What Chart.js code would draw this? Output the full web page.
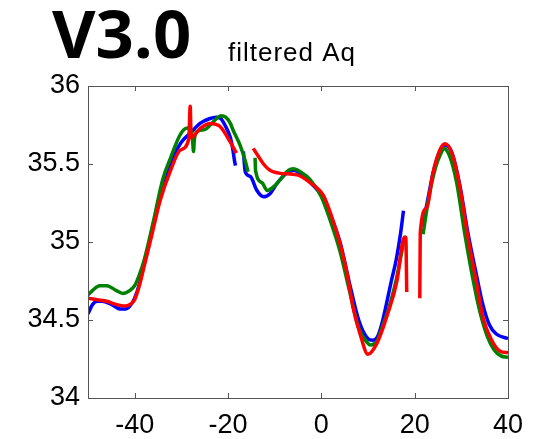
<!DOCTYPE html>
<html>
<head>
<meta charset="UTF-8">
<title>V3.0 filtered Aq</title>
<script src="https://cdn.jsdelivr.net/npm/chart.js@4.4.0/dist/chart.umd.min.js"></script>
<style>
  body { margin: 0; background: #fff; }
  #wrap { width: 537px; height: 439px; }
</style>
</head>
<body>
<div id="wrap"><canvas id="c"></canvas></div>
<script>
    // values, null = break in the line
    const blueX = [-50, -49, -48, -47, -45, -43, -42, -41, -40, -39, -38, -37, -35, -33, -31.5, -30, -28, -26, -24, -22.5, -21.5, -20.5, -19.5, -19, -18.6, -18.4, -17.5,
        -16.7, -16.3, -15.2, -13.8, -12.4, -11, -9.4, -7.5, -6, -4, -2, 0, 2, 4, 6, 8, 10, 11, 12, 13, 14, 15, 16, 17, 17.6, 19.5,
        21.6, 22.6, 24, 25.4, 26.5, 28, 29.7, 31.4, 33.3, 34.6, 36, 37.5, 40];
    const blueY = [34.54, 34.60, 34.62, 34.62, 34.60, 34.57, 34.57, 34.59, 34.64, 34.73, 34.86, 34.98, 35.23, 35.43, 35.56, 35.64, 35.70, 35.76, 35.79, 35.80, 35.79, 35.74, 35.67, 35.60, 35.52, 35.49, null,
        35.58, 35.45, 35.42, 35.33, 35.29, 35.31, 35.38, 35.44, 35.46, 35.43, 35.37, 35.30, 35.17, 35.00, 34.74, 34.50, 34.38, 34.37, 34.39, 34.48, 34.61, 34.75, 34.88, 35.06, 35.20, null,
        35.10, 35.24, 35.45, 35.58, 35.62, 35.57, 35.36, 35.06, 34.78, 34.60, 34.47, 34.41, 34.38];

    const greenX = [-50, -49, -47.5, -46, -44, -42.5, -41, -40, -39, -38, -36, -34, -32.3, -30.2, -28.7, -28, -27.6, -27.4, -27.2, -26.5, -25, -23.8, -22.5, -21.5, -20.5, -19.5, -18.8, -17.4, -16.3, -15.7, -15,
        -14.2, -14.1, -12.7, -11.6, -10, -8.8, -7, -6, -4.5, -2.4, 0, 2, 4, 6, 8, 10, 10.5, 12, 13, 14.7, 16, 17, 17.9, 20,
        21.8, 23, 24.5, 25.5, 26.3, 27.5, 29, 30.7, 32.5, 34, 35.5, 37, 38.5, 40];
    const greenY = [34.66, 34.69, 34.72, 34.72, 34.69, 34.67, 34.69, 34.72, 34.79, 34.88, 35.13, 35.40, 35.54, 35.69, 35.73, 35.72, 35.66, 35.58, 35.66, 35.71, 35.72, 35.75, 35.79, 35.81, 35.80, 35.76, 35.71, 35.62, 35.52, 35.45, null,
        35.54, 35.46, 35.38, 35.33, 35.36, 35.40, 35.46, 35.47, 35.45, 35.40, 35.29, 35.13, 34.94, 34.69, 34.45, 34.35, 34.34, 34.37, 34.45, 34.60, 34.75, 34.90, 35.04, null,
        35.05, 35.28, 35.48, 35.56, 35.60, 35.55, 35.38, 35.06, 34.76, 34.55, 34.40, 34.31, 34.27, 34.26];

    const redX = [-50, -48, -46, -44, -42, -41, -40, -39, -38, -36.6, -34.5, -32.3, -30.2, -28.4, -28.1, -27.9, -25.9, -23.8, -21.7, -19.5, -18.2, -16,
        -14.6, -13.5, -12.4, -11, -8.8, -5.2, -2.4, 0.4, 1.9, 4, 5.5, 6.8, 8.3, 10, 11.9, 14, 16.2, 17.5, 18.1, 18.3, 20,
        21.1, 21.2, 22.6, 23.9, 25.4, 26.5, 28, 29.7, 31.4, 33.3, 34.6, 36.5, 38.3, 40];
    const redY = [34.64, 34.63, 34.62, 34.60, 34.59, 34.60, 34.63, 34.72, 34.84, 35.01, 35.27, 35.46, 35.59, 35.66, 35.87, 35.67, 35.73, 35.76, 35.74, 35.64, 35.57, null,
        35.60, 35.55, 35.50, 35.46, 35.44, 35.43, 35.38, 35.30, 35.19, 34.99, 34.80, 34.58, 34.41, 34.28, 34.35, 34.52, 34.75, 35.01, 35.03, 34.68, null,
        34.64, 35.06, 35.22, 35.44, 35.59, 35.63, 35.57, 35.35, 35.03, 34.73, 34.52, 34.37, 34.30, 34.29];

    const xTicks = [-40, -20, 0, 20, 40];
    const yTicks = [34, 34.5, 35, 35.5, 36];

    function pts(xs, ys) {
        return xs.map((x, i) => ({ x: x, y: ys[i] }));
    }

    function series(name, xs, ys, color) {
        return {
            label: name,
            data: pts(xs, ys),
            showLine: true,
            borderColor: color,
            backgroundColor: color,
            borderWidth: 3.5,
            pointRadius: 0,
            spanGaps: false,
            cubicInterpolationMode: 'monotone'
        };
    }

    // MATLAB-like box with inward ticks, plus the two titles
    const boxPlugin = {
        id: 'box',
        afterDraw(chart) {
            const ctx = chart.ctx;
            const a = chart.chartArea;
            const xs = chart.scales.x, ys = chart.scales.y;
            ctx.save();
            ctx.strokeStyle = '#555';
            ctx.lineWidth = 1;
            ctx.strokeRect(Math.round(a.left) + 0.5, Math.round(a.top) + 0.5,
                Math.round(a.right - a.left), Math.round(a.bottom - a.top));
            ctx.beginPath();
            xTicks.forEach(v => {
                const px = Math.round(xs.getPixelForValue(v)) + 0.5;
                ctx.moveTo(px, a.bottom); ctx.lineTo(px, a.bottom - 5);
                ctx.moveTo(px, a.top); ctx.lineTo(px, a.top + 5);
            });
            yTicks.forEach(v => {
                const py = Math.round(ys.getPixelForValue(v)) + 0.5;
                ctx.moveTo(a.left, py); ctx.lineTo(a.left + 5, py);
                ctx.moveTo(a.right, py); ctx.lineTo(a.right - 5, py);
            });
            ctx.stroke();

            ctx.fillStyle = '#000';
            ctx.textBaseline = 'alphabetic';
            ctx.textAlign = 'left';
            ctx.font = '700 67px "Open Sans"';
            ctx.fillText('V3.0', 52, 58);
            ctx.font = '26px "Liberation Sans"';
            ctx.letterSpacing = '1px';
            ctx.fillText('filtered Aq', 228, 61);
            ctx.restore();
        }
    };

    const ctx = document.getElementById('c').getContext('2d');
    const chart = new Chart(ctx, {
        type: 'scatter',
        data: {
            datasets: [
                series('red', redX, redY, '#ff0000'),
                series('green', greenX, greenY, '#008000'),
                series('blue', blueX, blueY, '#0000ff')
            ]
        },
        options: {
            responsive: true,
            maintainAspectRatio: false,
            animation: false,
            layout: { padding: { top: 86, right: 29, left: 0, bottom: 0 } },
            plugins: {
                legend: { display: false },
                tooltip: { enabled: false }
            },
            scales: {
                x: {
                    type: 'linear',
                    min: -50,
                    max: 40,
                    afterBuildTicks: s => { s.ticks = xTicks.map(v => ({ value: v })); },
                    afterFit: s => { s.height = 41; },
                    grid: { display: false, drawTicks: false },
                    border: { display: false },
                    ticks: {
                        padding: 11,
                        maxRotation: 0,
                        color: '#000',
                        font: { family: 'Liberation Sans', size: 27 },
                        callback: v => String(v)
                    }
                },
                y: {
                    type: 'linear',
                    min: 34,
                    max: 36,
                    afterBuildTicks: s => { s.ticks = yTicks.map(v => ({ value: v })); },
                    afterFit: s => { s.width = 88; },
                    grid: { display: false, drawTicks: false },
                    border: { display: false },
                    ticks: {
                        padding: 8,
                        color: '#000',
                        font: { family: 'Liberation Sans', size: 27 },
                        callback: v => String(v)
                    }
                }
            }
        },
        plugins: [boxPlugin]
    });
</script>
</body>
</html>
